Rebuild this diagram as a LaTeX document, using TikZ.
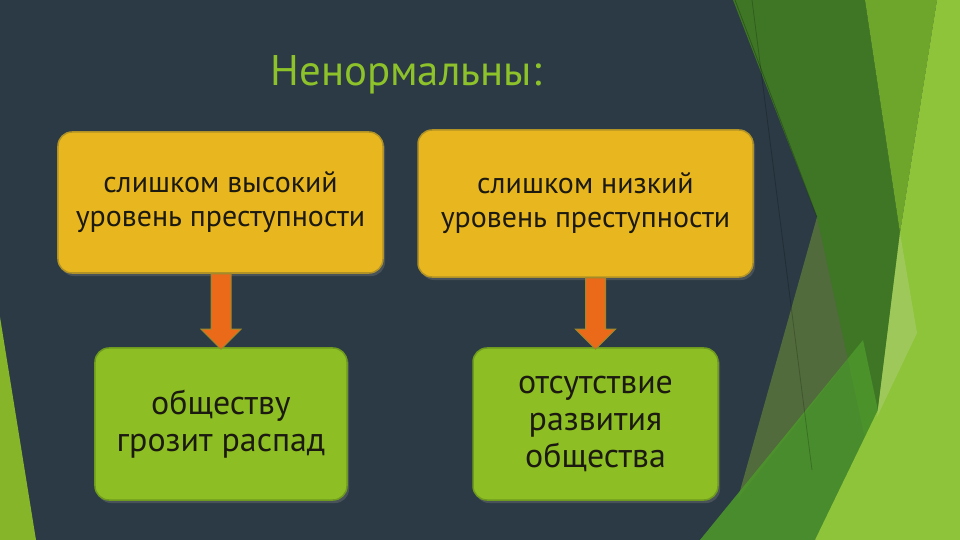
\documentclass[tikz,border=0pt]{standalone}
\usepackage{fontspec}
\setmainfont{PT Sans}
\usetikzlibrary{calc,shadows}
\definecolor{bgc}{HTML}{2B3A44}
\definecolor{dkgreen}{HTML}{3E7626}
\definecolor{mdgreen}{HTML}{6DA62B}
\definecolor{brgreen}{HTML}{8EC43A}
\definecolor{ltgreen}{HTML}{A2CB62}
\definecolor{olive}{HTML}{516B3C}
\definecolor{lowgreen}{HTML}{4D962B}
\definecolor{leftgreen}{HTML}{86B52A}
\definecolor{yfill}{HTML}{E8B720}
\definecolor{ybord}{HTML}{B09226}
\definecolor{gfill}{HTML}{8DBF24}
\definecolor{gbord}{HTML}{6E9A1E}
\definecolor{arrowc}{HTML}{EB6A1A}
\definecolor{arrowb}{HTML}{9A8A2C}
\definecolor{titlec}{HTML}{8DC22A}
\definecolor{txt}{HTML}{1C1A10}
\tikzset{
  boxbase/.style={rounded corners=14bp, align=center, text=txt, inner sep=0pt, line width=1.5bp,
    drop shadow={shadow xshift=2bp, shadow yshift=-3bp, opacity=0.35}},
  ybox/.style={boxbase, draw=ybord, fill=yfill, font=\fontsize{30}{34}\selectfont},
  gbox/.style={boxbase, draw=gbord, fill=gfill, font=\fontsize{34}{37}\selectfont},
  titlestyle/.style={text=titlec, font=\fontsize{43}{48}\selectfont, inner sep=0pt},
  blockarrow/.style={fill=arrowc, draw=arrowb, line width=1bp, line join=miter}
}
\begin{document}
\begin{tikzpicture}[x=1bp,y=-1bp]
\useasboundingbox (0,0) rectangle (960,540);
\fill[bgc] (0,0) rectangle (960,540);
% background decoration
\fill[leftgreen] (0,317) -- (36,540) -- (0,540) -- cycle;
\fill[olive] (817,217) -- (863,340) -- (738,498) -- cycle;
\fill[dkgreen] (733,0) -- (865,0) -- (900,233) -- (872,470) -- (817,217) -- cycle;
\fill[mdgreen] (865,0) -- (937,0) -- (900,233) -- cycle;
\fill[lowgreen, opacity=0.9] (863,340) -- (880,420) -- (815,540) -- (700,540) -- cycle;
\fill[brgreen] (937,0) -- (960,0) -- (960,540) -- (815,540) -- (878,410) -- (900,233) -- cycle;
\fill[ltgreen, opacity=0.8] (900,233) -- (917,333) -- (877,417) -- cycle;
\draw[black, opacity=0.25, line width=0.8bp] (735,0) -- (817,217);
\draw[black, opacity=0.2, line width=0.8bp] (752,0) -- (812,470);
% title
\node[titlestyle] (t) at (406,75) {Ненормальны:};
% boxes
\node[ybox, minimum width=325bp, minimum height=141bp] (y1) at (220.5,202.5) {слишком высокий\\уровень преступности};
\node[ybox, minimum width=335bp, minimum height=147bp] (y2) at (585.5,203.5) {слишком низкий\\уровень преступности};
\node[gbox, minimum width=252bp, minimum height=152bp] (g1) at (221,424) {обществу\\грозит распад};
\node[gbox, minimum width=245bp, minimum height=152bp] (g2) at (595.5,424) {отсутствие\\развития\\общества};
% arrows
\foreach \a/\b in {y1/g1, y2/g2}{
  \draw[blockarrow] ($(\a.south -| \b.north)+(-10,0)$) -- ($(\b.north)+(-10,-18)$) -- ($(\b.north)+(-20,-18)$)
    -- ($(\b.north)+(0,2)$) -- ($(\b.north)+(20,-18)$) -- ($(\b.north)+(10,-18)$)
    -- ($(\a.south -| \b.north)+(10,0)$) -- cycle;
}
\end{tikzpicture}
\end{document}
